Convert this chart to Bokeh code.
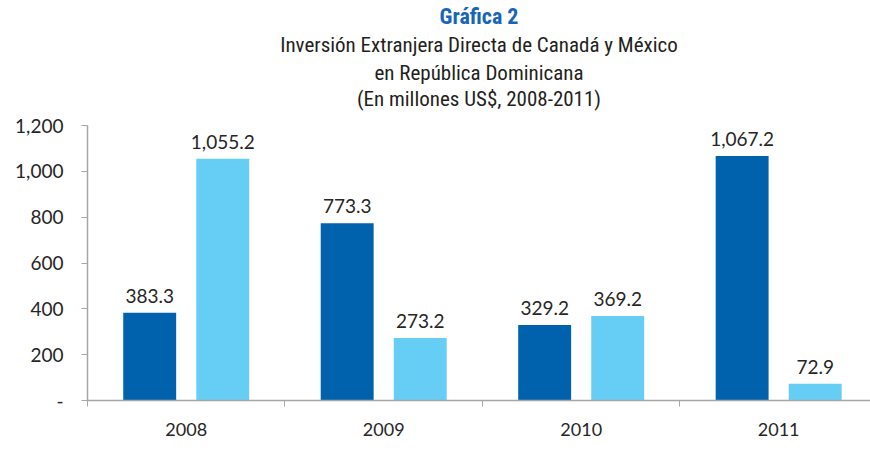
from bokeh.plotting import figure
from bokeh.models import Range1d, FixedTicker, Title, Legend, LegendItem, ColumnDataSource
from bokeh.core.properties import value
from bokeh.embed import file_html
from bokeh.resources import INLINE

years = ["2008", "2009", "2010", "2011"]
canada = [383.3, 773.3, 329.2, 1067.2]
mexico = [1055.2, 273.2, 369.2, 72.9]
y_ticks = [0, 200, 400, 600, 800, 1000, 1200]
y_tick_labels = ["-", "200", "400", "600", "800", "1,000", "1,200"]

C_CAN = "#0062AD"
C_MEX = "#66CEF5"
TXT = "#262626"
AXC = "#A6A6A6"
NUM_FONT = "Lato"
TITLE_FONT = "Liberation Sans Narrow, Roboto Condensed, Roboto"

def fmt(v):
    return f"{v:,.1f}"

p = figure(width=870, height=474, frame_width=783, frame_height=275,
           output_backend="svg", toolbar_location=None,
           x_range=Range1d(0, 3.965), y_range=Range1d(0, 1200),
           min_border_left=87, min_border_right=0, min_border_top=0, min_border_bottom=0)
p.outline_line_color = None
p.xgrid.visible = False
p.ygrid.visible = False
p.background_fill_color = "white"

centers = [i + 0.5 for i in range(len(years))]
off = 0.185
bw = 0.268
src_c = ColumnDataSource(dict(x=[c - off for c in centers], top=canada, lab=[fmt(v) for v in canada]))
src_m = ColumnDataSource(dict(x=[c + off for c in centers], top=mexico, lab=[fmt(v) for v in mexico]))

rc = p.vbar(x="x", top="top", width=bw, bottom=0, source=src_c, fill_color=C_CAN, line_color=None)
rm = p.vbar(x="x", top="top", width=bw, bottom=0, source=src_m, fill_color=C_MEX, line_color=None)
# invisible renderer used only to pad the legend so that it sits left of centre
rpad = p.vbar(x=[], top=[], width=0, fill_alpha=0, line_alpha=0)

for src in (src_c, src_m):
    p.text(x="x", y="top", text="lab", source=src, text_align="center", text_baseline="alphabetic",
           y_offset=-17, text_font=value(NUM_FONT), text_font_size="19px", text_color=TXT)

# axes
xa = p.xaxis[0]
xa.ticker = FixedTicker(ticks=centers, minor_ticks=[0, 1, 2, 3])
xa.major_label_overrides = {c: y for c, y in zip(centers, years)}
xa.major_tick_line_color = None
xa.major_tick_out = 0
xa.major_tick_in = 0
xa.minor_tick_out = 6
xa.minor_tick_in = 0
xa.minor_tick_line_color = AXC
xa.axis_line_color = AXC
xa.axis_line_width = 1.5
xa.major_label_standoff = 16
xa.major_label_text_font = NUM_FONT
xa.major_label_text_font_size = "18px"
xa.major_label_text_color = TXT

ya = p.yaxis[0]
ya.ticker = FixedTicker(ticks=y_ticks, minor_ticks=[])
ya.major_label_overrides = {t: l for t, l in zip(y_ticks, y_tick_labels)}
ya.major_tick_out = 6
ya.major_tick_in = 0
ya.major_tick_line_color = AXC
ya.axis_line_color = AXC
ya.axis_line_width = 1.5
ya.major_label_standoff = 18
ya.major_label_text_font = NUM_FONT
ya.major_label_text_font_size = "19px"
ya.major_label_text_color = TXT

# titles: first added is nearest to the frame (a tiny spacer first)
p.add_layout(Title(text="\u00a0", align="center", standoff=13, text_font_size="1px"), "above")
title_lines = [("(En millones US$, 2008-2011)", -2),
               ("en República Dominicana", 2),
               ("Inversión Extranjera Directa de Canadá y México", 2)]
for txt, so in title_lines:
    p.add_layout(Title(text=txt, align="center", offset=-40, standoff=so,
                       text_font=TITLE_FONT, text_font_size="21px",
                       text_font_style="normal", text_color="#231F20"), "above")
p.add_layout(Title(text="Gráfica 2", align="center", offset=-40, standoff=2,
                   text_font=TITLE_FONT, text_font_size="22px", text_font_style="bold",
                   text_color="#1565B8"), "above")

legend = Legend(items=[LegendItem(label="Canadá", renderers=[rc]),
                       LegendItem(label="México", renderers=[rm]),
                       LegendItem(label="\u00a0" * 16, renderers=[rpad])],
                orientation="horizontal", location="bottom_center",
                glyph_width=12, glyph_height=12, label_text_font=NUM_FONT,
                label_text_font_size="19px", label_text_color=TXT, label_height=18,
                border_line_color=None, background_fill_alpha=0,
                padding=0, margin=0, spacing=28, label_standoff=4)
p.add_layout(legend, "below")

open("out.html", "w").write(file_html(p, INLINE))
